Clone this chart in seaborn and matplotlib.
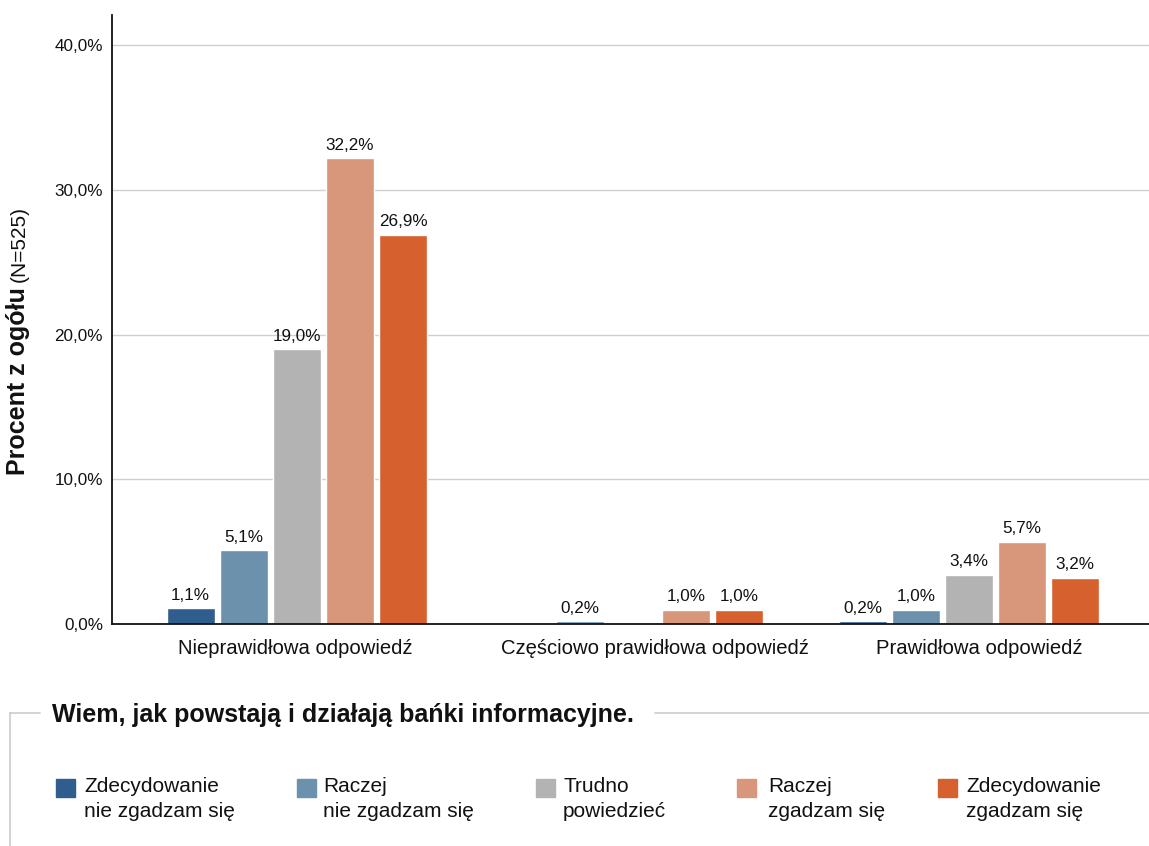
import matplotlib
matplotlib.use("Agg")
import matplotlib.pyplot as plt
import matplotlib.patches as mpatches
import matplotlib.lines as mlines
import matplotlib.transforms as mtransforms
import pandas as pd
import seaborn as sns

# --- data -------------------------------------------------------------
categories = ["Nieprawidłowa odpowiedź", "Częściowo prawidłowa odpowiedź", "Prawidłowa odpowiedź"]
responses = [
    "Zdecydowanie\nnie zgadzam się",
    "Raczej\nnie zgadzam się",
    "Trudno\npowiedzieć",
    "Raczej\nzgadzam się",
    "Zdecydowanie\nzgadzam się",
]
strongly_disagree = [1.1, 0.0, 0.2]
rather_disagree = [5.1, 0.2, 1.0]
hard_to_say = [19.0, 0.0, 3.4]
rather_agree = [32.2, 1.0, 5.7]
strongly_agree = [26.9, 1.0, 3.2]
colors = ["#2F5D8E", "#6C91AD", "#B3B3B3", "#D8967A", "#D6602E"]
y_ticks = [0, 10, 20, 30, 40]
legend_title = "Wiem, jak powstają i działają bańki informacyjne."
y_label_main = "Procent z ogółu"
y_label_note = "(N=525)"

series = [strongly_disagree, rather_disagree, hard_to_say, rather_agree, strongly_agree]
df = pd.DataFrame(
    [(cat, resp, vals[i]) for resp, vals in zip(responses, series) for i, cat in enumerate(categories)],
    columns=["odpowiedz", "opinia", "procent"],
)


def pct(v):
    return f"{v:.1f}%".replace(".", ",")


# --- figure -----------------------------------------------------------
sns.set_theme(style="white")
plt.rcParams["font.family"] = ["Liberation Sans", "DejaVu Sans"]

W, H = 1149, 846
fig = plt.figure(figsize=(W / 100, H / 100), dpi=100)
ax = fig.add_axes([112 / W, 1 - 624 / H, 1 - 112 / W, (624 - 15) / H])

sns.barplot(
    data=df, x="odpowiedz", y="procent", hue="opinia",
    order=categories, hue_order=responses, palette=colors,
    width=0.79, gap=0.1, saturation=1, errorbar=None, legend=False, ax=ax,
)

for container, vals in zip(ax.containers, series):
    ax.bar_label(container, labels=[pct(v) if v > 0 else "" for v in vals],
                 padding=4, fontsize=12.3, color="#111111")

ax.set_xlim(-0.55, 2.536)
ax.set_ylim(0, 42.1)
ax.set_yticks(y_ticks)
ax.set_yticklabels([pct(t) for t in y_ticks])
ax.yaxis.grid(True, color="#D0D0D0", linewidth=1)
ax.set_axisbelow(True)
ax.tick_params(axis="y", length=0, pad=6.5, labelsize=12.3, labelcolor="#111111")
ax.tick_params(axis="x", length=0, pad=11, labelsize=14.6, labelcolor="#111111")
ax.set_xlabel("")
ax.set_ylabel("")
for side in ["top", "right"]:
    ax.spines[side].set_visible(False)
for side in ["left", "bottom"]:
    ax.spines[side].set_color("#111111")
    ax.spines[side].set_linewidth(1.3)

# nudge category labels sideways a little
for lab, dx in zip(ax.get_xticklabels(), [-2, 22, 10]):
    lab.set_transform(lab.get_transform() + mtransforms.ScaledTranslation(dx / 100, 0, fig.dpi_scale_trans))

# --- y axis title: bold part followed by the sample size -------------
t_main = fig.text(18 / W, 1 - 475 / H, y_label_main, rotation=90, ha="center",
                  va="bottom", fontsize=18, fontweight="bold", color="#111111")
fig.canvas.draw()
bb = t_main.get_window_extent()
fig.text(19 / W, (bb.y1 + 5) / H, y_label_note, rotation=90, ha="center",
         va="bottom", fontsize=15, color="#111111")

# --- legend frame -----------------------------------------------------
frame_y = 1 - 713 / H
grey = "#CCCCCC"
fig.add_artist(mlines.Line2D([10 / W, 10 / W], [0, frame_y], color=grey, lw=1.2))
fig.add_artist(mlines.Line2D([10 / W, 40 / W], [frame_y, frame_y], color=grey, lw=1.2))
fig.add_artist(mlines.Line2D([655 / W, 1], [frame_y, frame_y], color=grey, lw=1.2))
fig.text(52 / W, 1 - 715 / H, legend_title, ha="left", va="center",
         fontsize=18, fontweight="bold", color="#111111")

# legend entries
sq_x = [56, 297, 536, 737, 938]
txt_x = [84, 323, 563, 768, 966]
for sx, tx, lab, col in zip(sq_x, txt_x, responses, colors):
    fig.add_artist(mpatches.Rectangle((sx / W, 1 - 797 / H), 19 / W, 18 / H,
                                      color=col, transform=fig.transFigure))
    fig.text(tx / W, 1 - 777 / H, lab, ha="left", va="top", fontsize=15,
             linespacing=1.4, color="#111111")

fig.savefig("out.png", dpi=100)
